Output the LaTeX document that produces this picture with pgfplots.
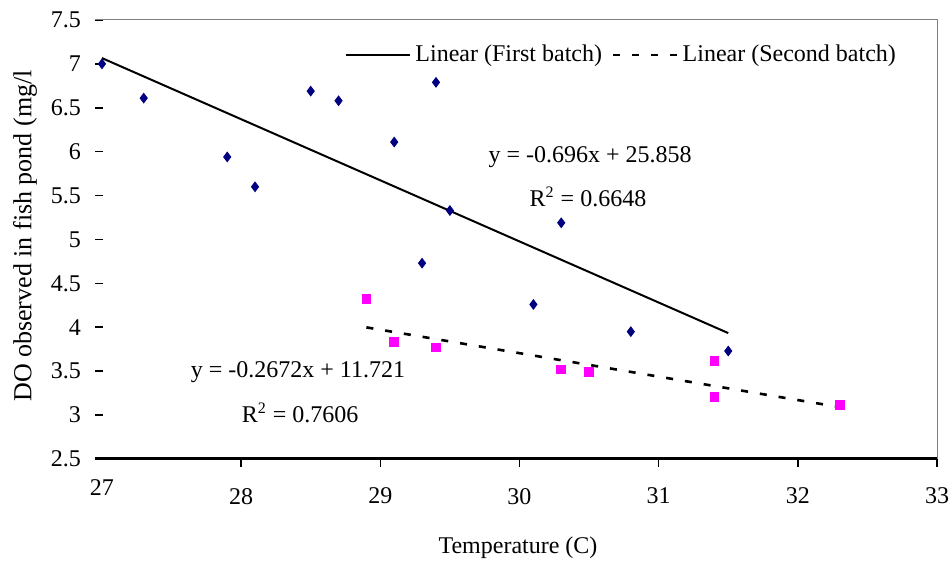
\documentclass[border=0pt]{standalone}
\usepackage{pgfplots}
\pgfplotsset{compat=1.18}
\usepackage{fontspec}
\setmainfont{Liberation Serif}
\definecolor{navyb}{HTML}{000080}
\definecolor{pinkm}{HTML}{FF00FF}
\definecolor{bordergray}{HTML}{808080}

\begin{document}
\begin{tikzpicture}
\begin{axis}[
  at={(47.5pt,53pt)}, anchor=south west,
  scale only axis, width=421pt, height=219.5pt,
  xmin=26.95, xmax=33, ymin=2.5, ymax=7.5,
  xtick={28,...,33},
  extra x ticks={27}, extra x tick style={major tick length=0pt},
  ytick={2.5,3,...,7.5},
  xtick pos=bottom, ytick pos=left,
  xtick align=outside, ytick align=inside,
  major tick length=4pt,
  tick style={black, line width=0.8pt},
  axis line style={draw=none},
  font=\fontsize{12}{14}\selectfont,
  /pgf/number format/assume math mode=true,
  xticklabel={\rmfamily\pgfmathprintnumber{\tick}},
  yticklabel={\rmfamily\pgfmathprintnumber{\tick}},
  xticklabel style={yshift=-7pt, font=\rmfamily\fontsize{12}{14}\selectfont},
  yticklabel style={xshift=-3.5pt, font=\rmfamily\fontsize{12}{14}\selectfont},
  clip=false,
  legend columns=2,
  legend style={at={(0.297,0.92)}, anchor=west, draw=none, fill=none,
    inner sep=0pt, font=\fontsize{12}{14}\selectfont,
    /tikz/every even column/.append style={column sep=3pt}},
  legend image code/.code={\draw[#1] (0pt,0pt) -- (32pt,0pt);},
]
\addplot[only marks, mark=diamond*, mark size=2.4pt, color=navyb, forget plot] coordinates {
(27.0,7.00) (27.3,6.61) (27.9,5.94) (28.1,5.60) (28.5,6.69) (28.7,6.58)
(29.1,6.11) (29.4,6.79) (29.5,5.33) (29.3,4.73) (30.3,5.19) (30.1,4.26)
(30.8,3.95) (31.5,3.73)
};
\addplot[only marks, mark=square*, mark size=2.2pt, color=pinkm, forget plot] coordinates {
(28.9,4.32) (29.1,3.83) (29.4,3.77) (30.3,3.52) (30.5,3.49) (31.4,3.62)
(31.4,3.21) (32.3,3.12)
};
\addplot[black, line width=1pt] coordinates {(27.0,7.066) (31.5,3.934)};
\addlegendentry{Linear (First batch)}
\addplot[black, line width=1.3pt, dash pattern=on 3.5pt off 6pt] coordinates {(28.9,3.999) (32.3,3.091)};
\addlegendentry{Linear (Second batch)}

\draw[bordergray, line width=0.5pt] (rel axis cs:0,1) -- (rel axis cs:1,1) -- (rel axis cs:1,0);
\draw[black, line width=1.5pt] (rel axis cs:0,0) -- (rel axis cs:1,0);

\node[font=\fontsize{12}{14}\selectfont] at (rel axis cs:0.588,0.688) {y = -0.696x + 25.858};
\node[font=\fontsize{12}{14}\selectfont] at (rel axis cs:0.5855,0.597) {R\textsuperscript{2} = 0.6648};
\node[font=\fontsize{12}{14}\selectfont] at (rel axis cs:0.241,0.198) {y = -0.2672x + 11.721};
\node[font=\fontsize{12}{14}\selectfont] at (rel axis cs:0.2435,0.105) {R\textsuperscript{2} = 0.7606};
\end{axis}
\node[rotate=90, font=\fontsize{13}{15}\selectfont] at (12.5pt,164.5pt) {DO observed in fish pond (mg/l};
\node[font=\fontsize{12}{14}\selectfont] at (259pt,8.5pt) {Temperature (C)};
\pgfresetboundingbox
\path (0pt,0pt) rectangle (475.5pt,282.5pt);
\end{tikzpicture}
\end{document}
